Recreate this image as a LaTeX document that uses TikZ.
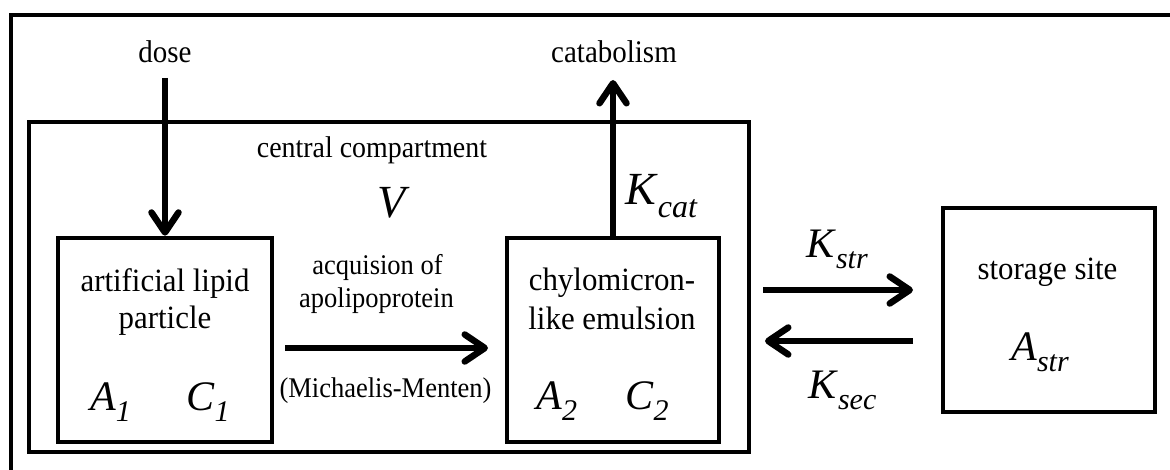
\documentclass[tikz,border=0pt]{standalone}
\usepackage{fontspec}
\setmainfont{Liberation Serif}
\usetikzlibrary{arrows.meta}
\newcommand\mlbl[2]{\textit{#1}\raisebox{-11pt}{\fontsize{30}{30}\selectfont\itshape #2}}
\newcommand\mlblb[2]{\textit{#1}\raisebox{-13pt}{\fontsize{32}{32}\selectfont\itshape #2}}
\newcommand\cond[2]{\scalebox{#1}[1]{#2}}
\begin{document}
\begin{tikzpicture}[x=1pt,y=-1pt,
  frame/.style={line width=4pt},
  box/.style={draw, rectangle, line width=4.5pt, inner sep=0pt, minimum width=#1, minimum height=204pt},
  arr/.style={line width=6.5pt, -{Straight Barb[length=20pt,width=27pt,round]}},
  lbl/.style={inner sep=0pt, anchor=base},
  fsmall/.style={font=\fontsize{28.5}{30}\selectfont},
  fmid/.style={font=\fontsize{31.5}{32}\selectfont},
  fcc/.style={font=\fontsize{30}{32}\selectfont},
  fbox/.style={font=\fontsize{32.5}{34}\selectfont},
  fmath/.style={font=\fontsize{42}{42}\selectfont},
  fbig/.style={font=\fontsize{46}{46}\selectfont}]
\useasboundingbox (0,0) rectangle (1170,470);
\fill[white] (0,0) rectangle (1170,470);
\draw[frame] (11,472) -- (11,15) -- (1172,15);
% boxes
\node[draw, rectangle, line width=4.5pt, inner sep=0pt, minimum width=720pt, minimum height=330pt] (cc) at (389,287) {};
\node[box=214pt] (a1) at (165,340) {};
\node[box=212pt] (ch) at (613,340) {};
\node[box=212pt] (st) at (1049,310) {};
% top labels and arrows
\node[lbl, fmid] (dose) at (165,63) {\cond{0.92}{dose}};
\coordinate (dosestart) at (165,78);
\draw[arr] (dosestart) -- (a1.north);
\node[lbl, fmid] (catab) at (614,63) {\cond{0.92}{catabolism}};
\coordinate (catend) at (613,80);
\draw[arr] (ch.north) -- (catend);
\node[lbl, fcc] (cclbl) at (372,158) {\cond{0.93}{central compartment}};
\node[lbl, fbig] (vlbl) at (394,218) {\textit{V}};
\node[lbl, fbig, anchor=base west] (kcat) at (625,205) {\mlblb{K}{cat}};
% middle arrow
\node[lbl, fsmall] (acq) at (377.5,275) {\cond{0.93}{acquision of}};
\node[lbl, fsmall] (apo) at (376.5,308) {\cond{0.93}{apolipoprotein}};
\node[lbl, fsmall] (mm) at (385.5,397) {\cond{0.93}{(Michaelis-Menten)}};
\draw[arr, shorten <=10.75pt, shorten >=16.75pt] ([yshift=-8pt]a1.east) -- ([yshift=-8pt]ch.west);
% box texts
\node[lbl, fbox] (t1a) at (165,292) {\cond{0.95}{artificial lipid}};
\node[lbl, fbox] (t1b) at (165,329) {\cond{0.95}{particle}};
\node[lbl, fbox] (t2a) at (612,291) {\cond{0.95}{chylomicron-}};
\node[lbl, fbox] (t2b) at (612,330) {\cond{0.95}{like emulsion}};
\node[lbl, fbox] (sts) at (1047.5,280) {\cond{0.95}{storage site}};
\node[lbl, fmath, anchor=base west] (A1) at (90,410) {\mlbl{A}{1}};
\node[lbl, fmath, anchor=base west] (C1) at (186,410) {\mlbl{C}{1}};
\node[lbl, fmath, anchor=base west] (A2) at (536,409) {\mlbl{A}{2}};
\node[lbl, fmath, anchor=base west] (C2) at (625,409) {\mlbl{C}{2}};
\node[lbl, fmath, anchor=base west] (Astr) at (1011,360) {\mlbl{A}{str}};
% exchange arrows
\coordinate (kstrR) at ([yshift=20pt]st.west);
\coordinate (kstrL) at (kstrR -| cc.east);
\draw[arr, shorten <=11.75pt, shorten >=27.75pt] (kstrL) -- (kstrR);
\coordinate (ksecR) at ([yshift=-31pt]st.west);
\coordinate (ksecL) at (ksecR -| cc.east);
\draw[arr, shorten <=27.75pt, shorten >=13.75pt] (ksecR) -- (ksecL);
\node[lbl, fmath, anchor=base west] (kstr) at (806,258) {\mlbl{K}{str}};
\node[lbl, fmath, anchor=base west] (ksec) at (808,398) {\mlbl{K}{sec}};
\end{tikzpicture}
\end{document}
